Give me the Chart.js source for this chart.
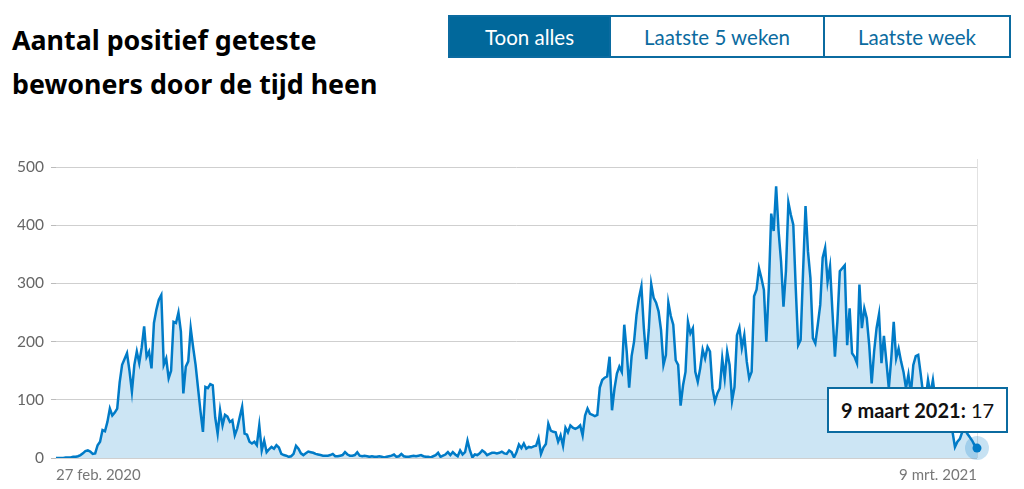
<!DOCTYPE html>
<html lang="nl">
<head>
<meta charset="utf-8">
<script src="https://cdn.jsdelivr.net/npm/chart.js@4.4.1/dist/chart.umd.min.js"></script>
<style>
  html, body { margin: 0; padding: 0; background: #fff; }
  body { width: 1024px; height: 489px; position: relative; overflow: hidden; font-family: Lato, "Noto Sans", sans-serif; }
  h2 { position: absolute; left: 12px; top: 18px; margin: 0; font-family: "Noto Sans", sans-serif; font-size: 26.8px; line-height: 44px; font-weight: 700; color: #000; }
  .knoppen { position: absolute; left: 448px; top: 15px; display: flex; border: 2px solid #0b6ba0; box-sizing: border-box; height: 43px; }
  .knoppen button { height: 39px; border: 0; border-left: 2px solid #0b6ba0; background: #fff; color: #0b6ba0; font: 20.5px Lato, "Noto Sans", sans-serif; padding: 0; }
  .knoppen button:first-child { border-left: 0; background: #01689b; color: #fff; }
  #wrap { position: absolute; left: 0; top: 150px; width: 1024px; height: 334px; }
  #tip { position: absolute; background: #fff; border: 2px solid #0b6ba0; padding: 0 12px; height: 42px; line-height: 42px; font-size: 20px; color: #111; white-space: nowrap; }
</style>
</head>
<body>
<h2>Aantal positief geteste<br>bewoners door de tijd heen</h2>
<div class="knoppen">
  <button style="width:159px">Toon alles</button>
  <button style="width:214px">Laatste 5 weken</button>
  <button style="width:186px">Laatste week</button>
</div>
<div id="wrap"><canvas id="grafiek"></canvas></div>
<div id="tip"></div>
<script>
// dagelijkse reeks vanaf 27 feb 2020 t/m 9 mrt 2021
const startDatum = [2020, 1, 27];
const maandKort = ["jan.", "feb.", "mrt.", "apr.", "mei", "jun.", "jul.", "aug.", "sep.", "okt.", "nov.", "dec."];
const maandLang = ["januari", "februari", "maart", "april", "mei", "juni", "juli", "augustus", "september", "oktober", "november", "december"];
const yTicks = [0, 100, 200, 300, 400, 500];

const positief = [
  0, 0, 0, 0, 1, 1, 1, 2, 2, 3, 5,
  8, 12, 13, 11, 7, 8,
  22, 28, 48, 46, 62, 85, 73, 78, 85, 130, 160, 170, 180, 150,
  114, 160, 183, 163, 190, 226, 174, 183, 154, 232,
  255, 272, 280, 160, 171, 137, 150, 234, 232, 250,
  217, 111, 157, 166, 223, 190, 160, 120, 80, 45,
  122, 120, 127, 125, 70, 42, 82, 56, 74, 71,
  62, 65, 39, 51, 70, 88, 42, 40, 28, 25,
  28, 22, 56, 13, 30, 10, 15, 19, 16, 22,
  18, 7, 5, 4, 2, 3, 7, 21, 16, 8,
  5, 8, 11, 10, 9, 7, 6, 5, 4, 4,
  4, 5, 7, 3, 3, 4, 5, 10, 6, 4,
  4, 5, 10, 4, 3, 4, 3, 2, 3, 2,
  2, 3, 2, 1, 2, 3, 4, 6, 2, 3,
  7, 3, 2, 2, 3, 4, 3, 4, 5, 3,
  2, 2, 1, 3, 5, 9, 2, 4, 6, 10,
  5, 10, 6, 3, 13, 6, 10, 30, 13, 1,
  6, 5, 8, 13, 10, 5, 7, 9, 9, 8,
  9, 11, 8, 7, 13, 10, 1, 10, 23, 17,
  25, 16, 19, 18, 20, 21, 34, 7, 18, 24,
  59, 47, 45, 44, 28, 39, 21, 52, 44, 56,
  52, 50, 52, 56, 39, 73, 85, 76, 74, 72,
  74, 121, 134, 138, 140, 174, 82, 119, 145, 157,
  148, 229, 183, 121, 175, 200, 246, 275, 295, 223,
  170, 220, 299, 275, 267, 252, 220, 160, 177, 267,
  244, 229, 168, 160, 90, 125, 148, 234, 214, 223,
  148, 131, 154, 186, 171, 191, 183, 120, 97, 111,
  120, 171, 137, 183, 160, 98, 122, 211, 224, 189,
  211, 166, 137, 148, 278, 289, 326, 309, 289, 200,
  292, 420, 390, 467, 390, 338, 260, 321, 439, 418,
  401, 292, 194, 203, 321, 433, 355, 309, 206, 197,
  229, 263, 344, 361, 303, 329, 250, 174, 234, 321,
  326, 331, 194, 257, 180, 174, 163, 298, 223, 257,
  240, 194, 128, 183, 223, 247, 163, 210, 166, 120,
  171, 234, 171, 188, 166, 148, 120, 143, 110, 160,
  175, 177, 145, 110, 100, 134, 110, 134, 100, 85,
  110, 90, 70, 80, 60, 45, 19, 28, 33, 45,
  50, 42, 36, 30, 22, 17
];

const datums = positief.map((_, i) => new Date(startDatum[0], startDatum[1], startDatum[2] + i));
const kort = d => d.getDate() + " " + maandKort[d.getMonth()] + " " + d.getFullYear();
const lang = d => d.getDate() + " " + maandLang[d.getMonth()] + " " + d.getFullYear();
const laatste = positief.length - 1;

// hover-weergave van het laatste punt (lijn, halo, stip, tooltip)
const actiefPunt = {
  id: "actiefPunt",
  beforeDatasetsDraw(chart) {
    const p = chart.getDatasetMeta(0).data[laatste];
    const c = chart.ctx, a = chart.chartArea;
    c.save();
    c.strokeStyle = "#e2e2e2";
    c.lineWidth = 1;
    c.beginPath();
    c.moveTo(Math.round(p.x) + 0.5, a.top - 8);
    c.lineTo(Math.round(p.x) + 0.5, a.bottom);
    c.stroke();
    c.restore();
  },
  afterDatasetsDraw(chart) {
    const p = chart.getDatasetMeta(0).data[laatste];
    const c = chart.ctx;
    c.save();
    c.fillStyle = "rgba(0,123,199,0.22)";
    c.beginPath(); c.arc(p.x, p.y, 12, 0, Math.PI * 2); c.fill();
    c.fillStyle = "#007bc7";
    c.beginPath(); c.arc(p.x, p.y, 4.5, 0, Math.PI * 2); c.fill();
    c.restore();
    const tip = document.getElementById("tip");
    tip.innerHTML = "<b>" + lang(datums[laatste]) + ":</b> " + positief[laatste];
    tip.style.left = (p.x + 31 - tip.offsetWidth) + "px";
    tip.style.top = (150 + p.y - 61) + "px";
  }
};

new Chart(document.getElementById("grafiek"), {
  type: "line",
  data: {
    labels: datums.map(kort),
    datasets: [{
      data: positief,
      borderColor: "#007bc7",
      backgroundColor: "rgba(0,123,199,0.2)",
      fill: true,
      borderWidth: 2.5,
      pointRadius: 0,
      tension: 0
    }]
  },
  options: {
    responsive: true,
    maintainAspectRatio: false,
    animation: false,
    events: [],
    layout: { padding: { top: 17, right: 47, bottom: 0, left: 10 } },
    plugins: { legend: { display: false }, tooltip: { enabled: false } },
    scales: {
      x: {
        grid: { display: false },
        border: { display: false },
        ticks: {
          autoSkip: false, maxRotation: 0, align: "inner", padding: 0,
          color: "#777", font: { family: "Lato", size: 15 },
          callback: (v, i, t) => (i === 0 || i === t.length - 1) ? kort(datums[i]) : null
        }
      },
      y: {
        min: yTicks[0], max: yTicks[yTicks.length - 1],
        afterBuildTicks: s => { s.ticks = yTicks.map(v => ({ value: v })); },
        border: { display: false },
        grid: { color: "#cfcfcf", tickColor: "#bbb", tickLength: 5 },
        ticks: { color: "#666", padding: 7, font: { family: "Lato", size: 15.5 } }
      }
    }
  },
  plugins: [actiefPunt]
});
</script>
</body>
</html>
